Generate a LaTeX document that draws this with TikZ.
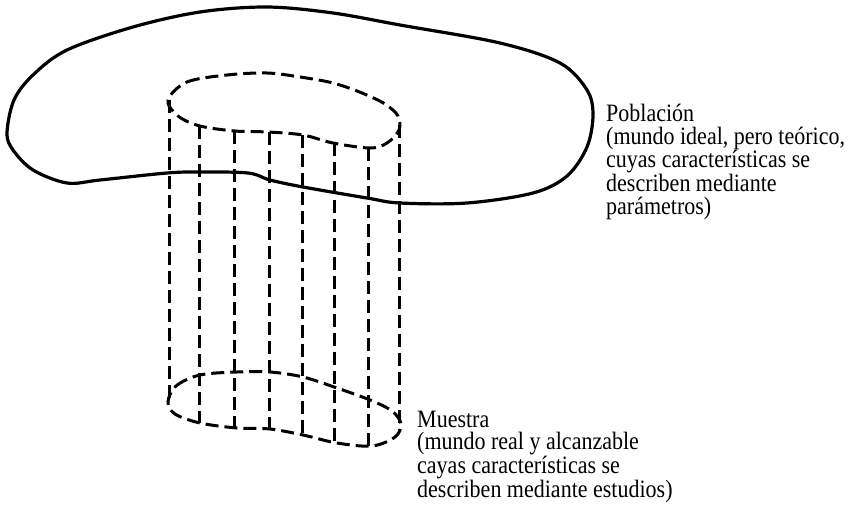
\documentclass[tikz,border=0pt]{standalone}
\usepackage{fontspec}
\newfontfamily\labelfont[FakeStretch=0.88]{Liberation Serif}
\usetikzlibrary{positioning}
\tikzset{
  outline/.style={line width=3.2pt, line join=round},
  hidden/.style={line width=3pt, dash pattern=on 13pt off 6pt},
  label/.style={anchor=base west, inner sep=0pt, align=left, font=\labelfont\fontsize{25}{22.3}\selectfont}
}
\begin{document}
\begin{tikzpicture}[x=1pt, y=-1pt]
\useasboundingbox (0,0) rectangle (848,514);
% population outline
\draw[outline] plot[smooth cycle, tension=0.55] coordinates {
  (7,133) (14,100) (33,75) (67,50) (133,27) (200,12) (267,7) (333,13)
  (400,25) (500,43) (560,63) (587,90) (593,115) (587,147) (567,176)
  (533,193) (467,203) (400,203) (367,198) (303,187) (270,180) (248,173)
  (200,172) (167,173) (100,180) (67,183) (33,170) (13,150)};
% sample: top of the cylinder
\draw[hidden] plot[smooth cycle, tension=0.55] coordinates {
  (168,100) (187,82) (227,75) (267,73) (300,77) (333,83) (362,93)
  (385,104) (398,116) (399,130) (387,143) (370,148) (333,143) (303,135)
  (268,132) (235,131) (200,126) (178,116)};
% sample: bottom of the cylinder
\draw[hidden] plot[smooth cycle, tension=0.55] coordinates {
  (168,402) (176,386) (200,375) (237,372) (270,372) (303,377) (337,388)
  (370,400) (392,411) (401,424) (395,437) (372,446) (337,443) (303,435)
  (270,429) (237,428) (200,423) (175,414)};
% generators
\foreach \x/\ytop/\ybot in {169/100/402, 199/126/423, 234/131/428, 269/132/429,
  302/135/435, 334/143/443, 368/148/446, 399/125/430}
  \draw[hidden] (\x,\ytop) -- (\x,\ybot);
% labels (base = last line)
\node[label] (poblacion) at (606,214) {Población\\(mundo ideal, pero teórico,\\cuyas características se\\describen mediante\\parámetros)};
\node[label] (muestra) at (417,497) {Muestra\\(mundo real y alcanzable\\cayas características se\\describen mediante estudios)};
\end{tikzpicture}
\end{document}
